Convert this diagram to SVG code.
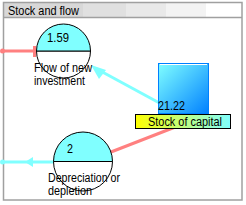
<svg xmlns="http://www.w3.org/2000/svg" width="246" height="205" viewBox="0 0 246 205">
<style>
text{font-family:"Liberation Sans",Arial,sans-serif;font-size:12px;fill:#000}
.valve{fill:#fff;stroke:#000;stroke-width:1}
.half{fill:#80ffff;stroke:#000;stroke-width:1}
.cy{stroke:#80ffff;stroke-width:3;fill:none}
.rd{stroke:#ff8080;stroke-width:3;fill:none}
</style>
<defs>
<linearGradient id="boxg" x1="0" y1="0" x2="1" y2="1">
<stop offset="0" stop-color="#80ffff"/>
<stop offset="1" stop-color="#0080ff"/>
</linearGradient>
<linearGradient id="labg" x1="0" y1="0" x2="1" y2="0">
<stop offset="0" stop-color="#ffff00"/>
<stop offset="1" stop-color="#80ffff"/>
</linearGradient>
</defs>
<g id="frame">
<rect x="0" y="0" width="246" height="205" fill="#fff"/>
<rect x="3" y="3" width="80" height="14" fill="#d8d8d8"/>
<rect x="83" y="3" width="43" height="14" fill="#e0e0e0"/>
<rect x="126" y="3" width="40" height="14" fill="#e9e9e9"/>
<rect x="166" y="3" width="40" height="14" fill="#f3f3f3"/>
<rect x="206" y="3" width="36" height="14" fill="#ffffff"/>
<rect x="3.5" y="2.5" width="238.5" height="197.5" fill="none" stroke="#a0a0a0" stroke-width="1.5"/>
<line x1="3" y1="17.5" x2="242" y2="17.5" stroke="#a0a0a0" stroke-width="1.5"/>
<text x="8" y="15" textLength="71" lengthAdjust="spacingAndGlyphs">Stock and flow</text>
</g>
<g id="connectors">
<line class="rd" x1="2" y1="51" x2="35" y2="51"/>
<circle cx="2.5" cy="51" r="2.5" fill="#ff8080"/>
<rect x="33" y="46" width="3" height="11" fill="#ff8080"/>
<line class="cy" x1="95" y1="68" x2="165" y2="106"/>
<polygon points="91,65 106,70 99,79" fill="#80ffff"/>
<line class="cy" x1="2" y1="162" x2="53" y2="162"/>
<circle cx="2.5" cy="162" r="2.5" fill="#80ffff"/>
<polygon points="25,162 33,157 33,167" fill="#80ffff"/>
<line class="rd" x1="111" y1="152" x2="183" y2="124"/>
</g>
<g id="flow-investment">
<path class="valve" d="M36.5,51 A27,27 0 0 0 90.5,51 Z"/>
<path class="half" d="M36.5,51 A27,27 0 0 1 90.5,51 Z"/>
<text x="47" y="42" textLength="22" lengthAdjust="spacingAndGlyphs">1.59</text>
<text x="34" y="72" textLength="58" lengthAdjust="spacingAndGlyphs">Flow of new</text>
<text x="34" y="85" textLength="51" lengthAdjust="spacingAndGlyphs">investment</text>
</g>
<g id="flow-depreciation">
<path class="valve" d="M53.5,161.5 A29.5,29.5 0 0 0 112.5,161.5 Z"/>
<path class="half" d="M53.5,161.5 A29.5,29.5 0 0 1 112.5,161.5 Z"/>
<text x="67" y="153" textLength="6" lengthAdjust="spacingAndGlyphs">2</text>
<text x="48" y="182" textLength="72" lengthAdjust="spacingAndGlyphs">Depreciation or</text>
<text x="48" y="195" textLength="44" lengthAdjust="spacingAndGlyphs">depletion</text>
</g>
<g id="stock">
<rect x="158.5" y="63.5" width="50" height="50" fill="url(#boxg)" stroke="#0080ff"/>
<line x1="160" y1="64.5" x2="207" y2="64.5" stroke="#fff" stroke-width="1"/>
<text x="158" y="110" textLength="27" lengthAdjust="spacingAndGlyphs">21.22</text>
<rect x="135.5" y="114.5" width="95" height="14" fill="url(#labg)" stroke="#000"/>
<text x="148" y="126" textLength="74" lengthAdjust="spacingAndGlyphs">Stock of capital</text>
</g>
</svg>
